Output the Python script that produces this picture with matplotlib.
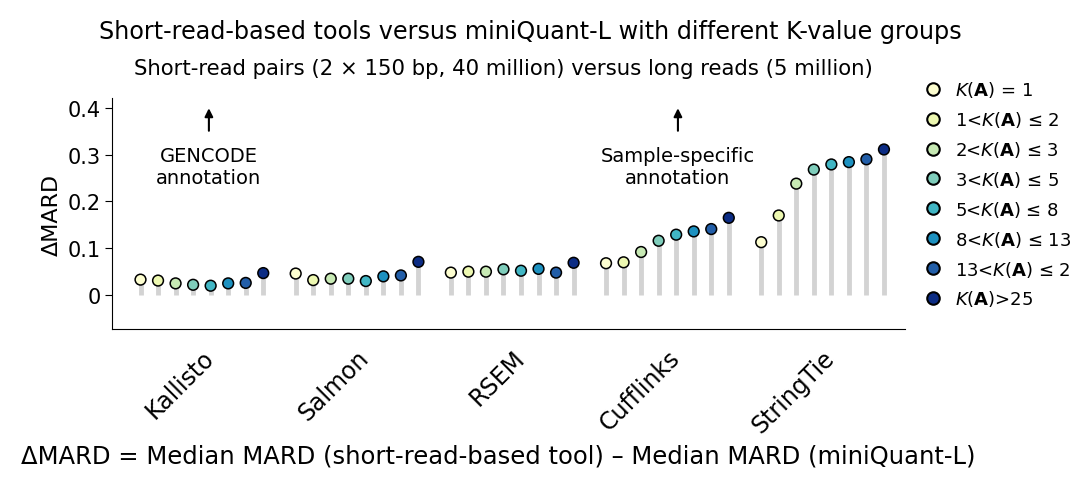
import matplotlib
matplotlib.use("Agg")
import matplotlib.pyplot as plt
from matplotlib.lines import Line2D

tools = ["Kallisto", "Salmon", "RSEM", "Cufflinks", "StringTie"]
groups = [r"$K(\mathbf{A})$ = 1", r"1<$K(\mathbf{A})$ ≤ 2", r"2<$K(\mathbf{A})$ ≤ 3",
          r"3<$K(\mathbf{A})$ ≤ 5", r"5<$K(\mathbf{A})$ ≤ 8", r"8<$K(\mathbf{A})$ ≤ 13",
          r"13<$K(\mathbf{A})$ ≤ 25", r"$K(\mathbf{A})$>25"]
colors = ["#fdfed0", "#edf8b1", "#c7e9b4", "#7fcdbb", "#41b6c4", "#1d91c0", "#225ea8", "#0c2c84"]
values = {
    "Kallisto": [0.033, 0.031, 0.025, 0.022, 0.020, 0.025, 0.026, 0.047],
    "Salmon": [0.046, 0.032, 0.035, 0.035, 0.030, 0.040, 0.042, 0.071],
    "RSEM": [0.048, 0.050, 0.050, 0.055, 0.052, 0.056, 0.048, 0.069],
    "Cufflinks": [0.068, 0.070, 0.092, 0.116, 0.129, 0.136, 0.141, 0.165],
    "StringTie": [0.113, 0.170, 0.238, 0.268, 0.279, 0.284, 0.290, 0.311],
}

fig = plt.figure(figsize=(10.71, 4.85), dpi=100)
ax = fig.add_axes([0.105, 0.32, 0.74, 0.475])
gap = 1.85
centers = []
for i, t in enumerate(tools):
    xs = [i * (8 + gap - 1) + j for j in range(8)]
    centers.append(sum(xs) / 8)
    ax.vlines(xs, 0, values[t], color="#d3d3d3", lw=3.5, zorder=1)
    ax.scatter(xs, values[t], c=colors, edgecolors="black", linewidths=1.1, s=60, zorder=3)

ax.set_ylim(-0.072, 0.42)
ax.set_xlim(-1.6, 4 * (8 + gap - 1) + 8.2)
ax.set_yticks([0, 0.1, 0.2, 0.3, 0.4])
ax.set_yticklabels(["0", "0.1", "0.2", "0.3", "0.4"], fontsize=15)
ax.set_xticks(centers)
ax.set_xticklabels(tools, rotation=45, ha="right", rotation_mode="anchor", fontsize=17)
ax.tick_params(axis="x", length=0, pad=12)
ax.tick_params(axis="y", length=5)
ax.spines["top"].set_visible(False)
ax.spines["right"].set_visible(False)
ax.set_ylabel("ΔMARD", fontsize=16)

for cx, label in [(centers[0] + 0.4, "GENCODE\nannotation"), (centers[3] + 0.6, "Sample-specific\nannotation")]:
    ax.annotate("", xy=(cx, 0.405), xytext=(cx, 0.345),
                arrowprops=dict(arrowstyle="-|>", lw=1.5, color="black", mutation_scale=12))
    ax.text(cx, 0.275, label, ha="center", va="center", fontsize=14)

fig.text(0.495, 0.92, "Short-read-based tools versus miniQuant-L with different K-value groups",
         ha="center", fontsize=17.2)
fig.text(0.47, 0.845, "Short-read pairs (2 × 150 bp, 40 million) versus long reads (5 million)",
         ha="center", fontsize=15.3)
fig.text(0.02, 0.045, "ΔMARD = Median MARD (short-read-based tool) – Median MARD (miniQuant-L)",
         ha="left", fontsize=17.5)

handles = [Line2D([], [], marker="o", ls="", markerfacecolor=c, markeredgecolor="black",
                  markeredgewidth=1.5, markersize=9) for c in colors]
fig.legend(handles, groups, loc="upper left", bbox_to_anchor=(0.848, 0.85), frameon=False,
           fontsize=13, handletextpad=0.2, labelspacing=0.55, borderaxespad=0)

fig.savefig("out.png", dpi=100)
